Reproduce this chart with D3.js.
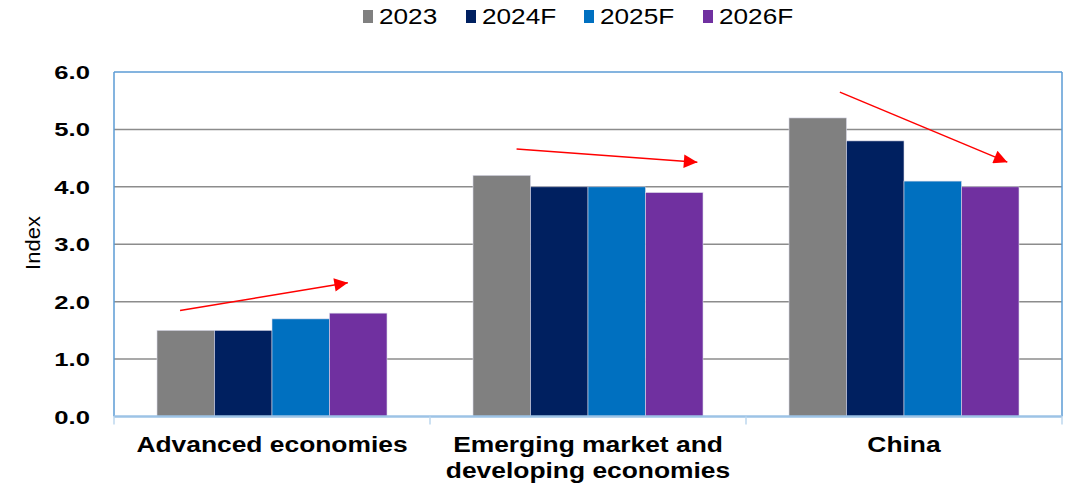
<!DOCTYPE html>
<html><head><meta charset="utf-8">
<script src="https://cdn.jsdelivr.net/npm/d3@7"></script>
<style>body{margin:0;background:#fff}svg{display:block}</style>
</head><body>
<svg id="c" width="1071" height="489"></svg>
<script>
const categories = [["Advanced economies"], ["Emerging market and", "developing economies"], ["China"]];
const seriesNames = ["2023", "2024F", "2025F", "2026F"];
const v2023  = [1.5, 4.2, 5.2];
const v2024F = [1.5, 4.0, 4.8];
const v2025F = [1.7, 4.0, 4.1];
const v2026F = [1.8, 3.9, 4.0];
const yTicks = [0, 1, 2, 3, 4, 5, 6];
const colors = ["#808080", "#002060", "#0070c0", "#7030a0"];
// trend arrows: [category index, start fraction of band, start value, end fraction, end value]
const arrows = [
  [0, 0.209, 1.845, 0.74, 2.33],
  [1, 0.274, 4.66, 0.846, 4.43],
  [2, 0.297, 5.65, 0.827, 4.43]
];

const series = [v2023, v2024F, v2025F, v2026F];
const svg = d3.select("#c");
const L = 114, R = 1062, T = 72, B = 416.5;
const catIdx = categories.map((d, i) => i);
const x0 = d3.scaleBand().domain(catIdx).range([L, R]).padding(0);
const x1 = d3.scaleBand().domain(seriesNames).range([0, x0.bandwidth()]).paddingInner(0).paddingOuter(0.748);
const y = d3.scaleLinear().domain([0, 6]).range([B, T]);

// gridlines
svg.append("g").selectAll("line").data(yTicks.filter(t => t > 0 && t < 6)).join("line")
  .attr("x1", L).attr("x2", R).attr("y1", d => y(d)).attr("y2", d => y(d))
  .attr("stroke", "#8c8c8c").attr("stroke-width", 1.5);

// bars
const g = svg.append("g");
catIdx.forEach(ci => {
  seriesNames.forEach((s, si) => {
    g.append("rect")
      .attr("x", x0(ci) + x1(s)).attr("width", x1.bandwidth())
      .attr("y", y(series[si][ci])).attr("height", B - y(series[si][ci]))
      .attr("fill", colors[si]).attr("stroke", "#d9d9e8").attr("stroke-width", 0.6);
  });
});

// plot border
svg.append("line").attr("x1", L).attr("x2", R).attr("y1", T).attr("y2", T).attr("stroke", "#5b9bd5").attr("stroke-width", 1.5);
svg.append("line").attr("x1", R).attr("x2", R).attr("y1", T).attr("y2", B).attr("stroke", "#5b9bd5").attr("stroke-width", 1.5);
svg.append("line").attr("x1", L).attr("x2", L).attr("y1", T).attr("y2", B).attr("stroke", "#5b9bd5").attr("stroke-width", 1.5);

// x axis
const xAxis = d3.axisBottom(x0).tickValues([]).tickSize(0);
const xa = svg.append("g").attr("transform", `translate(0,${B})`).call(xAxis);
xa.select(".domain").attr("stroke", "#9dc3e6").attr("stroke-width", 2.5).attr("d", `M${L},0H${R}`);
xa.selectAll(".sep").data([0, 1, 2, 3]).join("line").attr("class", "sep")
  .attr("x1", d => d < 3 ? x0(d) : R).attr("x2", d => d < 3 ? x0(d) : R)
  .attr("y1", 0).attr("y2", 8).attr("stroke", "#bdd7ee").attr("stroke-width", 1.5);

// category labels
catIdx.forEach(ci => {
  const cx = x0(ci) + x0.bandwidth() / 2;
  categories[ci].forEach((line, li) => {
    svg.append("g").attr("transform", `translate(${cx},${452 + li * 26}) scale(1.2,1)`)
      .append("text").attr("text-anchor", "middle")
      .attr("font-family", "Liberation Sans, Arial, sans-serif").attr("font-weight", "bold")
      .attr("font-size", 22).attr("fill", "#000").text(line);
  });
});

// y axis tick labels
const ya = svg.append("g");
yTicks.forEach(t => {
  ya.append("g").attr("transform", `translate(90,${y(t) + 7}) scale(1.35,1)`)
    .append("text").attr("text-anchor", "end")
    .attr("font-family", "Liberation Sans, Arial, sans-serif").attr("font-weight", "bold")
    .attr("font-size", 19).attr("fill", "#000").text(d3.format(".1f")(t));
});

// y title
svg.append("g").attr("transform", `translate(40,243) rotate(-90) scale(1.1,1)`)
  .append("text").attr("text-anchor", "middle")
  .attr("font-family", "Liberation Sans, Arial, sans-serif").attr("font-size", 20).attr("fill", "#000").text("Index");

// arrows
const defs = svg.append("defs");
defs.append("marker").attr("id", "ah").attr("viewBox", "0 0 10 10").attr("refX", 10).attr("refY", 5)
  .attr("markerWidth", 11).attr("markerHeight", 9).attr("markerUnits", "strokeWidth").attr("orient", "auto")
  .append("path").attr("d", "M0,0L10,5L0,10Z").attr("fill", "#ff0000");
svg.append("g").selectAll("line").data(arrows).join("line")
  .attr("x1", d => x0(d[0]) + d[1] * x0.bandwidth()).attr("y1", d => y(d[2]))
  .attr("x2", d => x0(d[0]) + d[3] * x0.bandwidth()).attr("y2", d => y(d[4]))
  .attr("stroke", "#ff0000").attr("stroke-width", 1.5).attr("marker-end", "url(#ah)");

// legend
const legX = [363, 466, 584, 703];
seriesNames.forEach((s, i) => {
  svg.append("rect").attr("x", legX[i]).attr("y", 10).attr("width", 10).attr("height", 13).attr("fill", colors[i]);
  svg.append("g").attr("transform", `translate(${legX[i] + 16},24) scale(1.19,1)`)
    .append("text").attr("font-family", "Liberation Sans, Arial, sans-serif").attr("font-size", 22)
    .attr("fill", "#000").text(s);
});
</script>
</body></html>
